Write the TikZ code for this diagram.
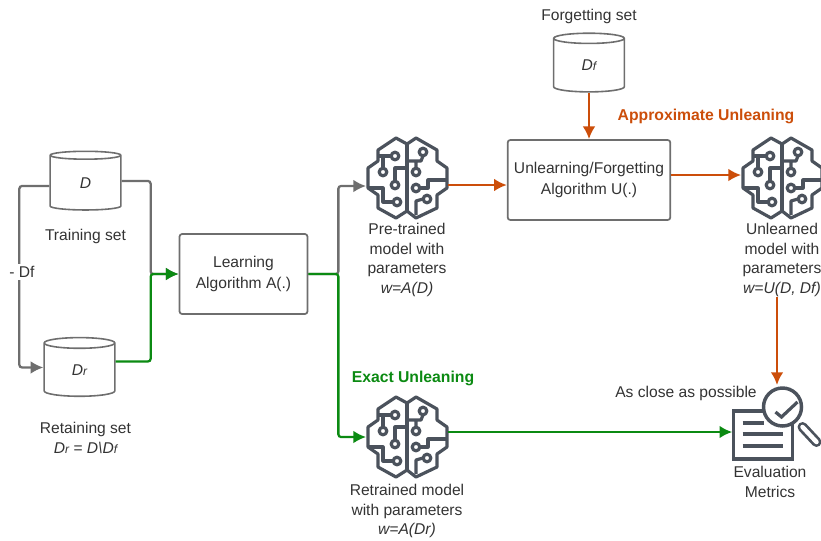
\documentclass[tikz,border=0pt]{standalone}
\usepackage{fontspec}
\setmainfont{Liberation Sans}
\usetikzlibrary{shapes.geometric}
\usetikzlibrary{arrows.meta}
\definecolor{icongray}{HTML}{4B525C}
\definecolor{linegray}{HTML}{6E6E6E}
\definecolor{textgray}{HTML}{333333}
\definecolor{exactgreen}{HTML}{0B8A12}
\definecolor{approxorange}{HTML}{CC4E0A}
\newcommand{\low}[1]{{\fontsize{9}{9}\selectfont #1}}
\newcommand{\drop}[1]{\raisebox{-2.2pt}{#1}}
\tikzset{
  label/.style={text=textgray,font=\fontsize{11.7}{14.6}\selectfont,align=center,inner sep=0pt},
  box/.style={draw=linegray,line width=1.3pt,rounded corners=2pt,text=textgray,align=center,
    font=\fontsize{11.7}{15.2}\selectfont},
  store/.style={cylinder,shape border rotate=90,aspect=.7,draw=linegray,line width=1.2pt,
    minimum width=53pt,minimum height=44pt,inner sep=0pt,text=textgray,font=\fontsize{11.7}{13}\selectfont\itshape},
  slot/.style={minimum width=61pt,minimum height=61pt,inner sep=0pt},
  sheet/.style={minimum width=45pt,minimum height=36pt,inner sep=0pt},
  link/.style={draw=linegray,line width=1.7pt,rounded corners=2pt,-{Latex[length=9.5pt,width=9.5pt]}},
  exact/.style={link,draw=exactgreen},
  approx/.style={link,draw=approxorange},
  brainicon/.pic={
    \begin{scope}[icongray,line width=2.4pt,line join=round,x=.75pt,y=-.75pt]
      \draw (-11,-40) -- (-29,-28) -- (-29,-17) -- (-39,-10) -- (-39,10) -- (-29,17) -- (-29,30) -- (-11,40)
        -- (0,33) -- (9,40) -- (30,30) -- (30,17) -- (40,10) -- (40,-10) -- (30,-17) -- (30,-28) -- (9,-40)
        -- (0,-34) -- cycle;
      \draw (0,-34) -- (0,33);
      \draw (-29,-22) -- (-15,-22) (-24,-22) -- (-24,-10) (0,-10) -- (-12,-10) -- (-12,3);
      \draw (-39,10) -- (-24,10) -- (-24,24) -- (-14,24);
      \draw (0,-17) -- (14,-17) -- (16,-22) (9,-17) -- (9,-9);
      \draw (40,2) -- (21,2) -- (21,10) -- (13,10);
      \draw (16,21) -- (9,23) -- (9,37);
      \foreach \px/\py in {-12/-22,-24/-6,-12/7,-10/24,16/-26,9/-6,9/10,20/21}
        \draw[fill=white] (\px,\py) circle (3.8);
    \end{scope}
  },
  reporticon/.pic={
    \begin{scope}[icongray,x=.75pt,y=-.75pt]
      \draw[line width=2.6pt,fill=white] (-29,-24) rectangle (30,24);
      \draw[line width=2.4pt] (-20,-12) -- (1,-12) (-20,-1) -- (20,-1) (-20,11) -- (20,11);
      \draw[line width=7.5pt,line cap=round] (40,-8) -- (54,7);
      \draw[white,line width=3.4pt,line cap=round] (40,-8) -- (54,7);
      \draw[line width=2.6pt,fill=white] (20,-28) circle (19);
      \draw[line width=2.4pt] (13,-23) -- (19,-18) -- (35,-33);
    \end{scope}
  },
}
\begin{document}
\begin{tikzpicture}[x=.75pt,y=-.75pt]
  \useasboundingbox (0,0) rectangle (821,540);
  \node (train) [store] at (85.5,183) {\drop{D}};
  \node (retain) [store] at (79.5,370) {\drop{D\low{r}}};
  \node (forget) [store] at (589,65.5) {\drop{D\low{f}}};
  \node (learn) [box,minimum width=96pt,minimum height=60pt] at (243.5,274) {Learning\\Algorithm A(.)};
  \node (unlearn) [box,minimum width=122pt,minimum height=60pt] at (589,180) {Unlearning/Forgetting\\Algorithm U(.)};
  \node (pretrained) [slot] at (407,178) {};
  \node (unlearned) [slot] at (782,178) {};
  \node (retrained) [slot] at (407,437) {};
  \node (report) [sheet] at (762.5,435) {};
  \coordinate (lens) at (777,385);
  \pic at (pretrained) {brainicon};
  \pic at (unlearned) {brainicon};
  \pic at (retrained) {brainicon};
  \pic at (report) {reporticon};
  \node (forgetname) [label] at (589,16) {Forgetting set};
  \node (trainname) [label] at (85.5,236) {Training set};
  \node (retainname) [label] at (85.5,438) {Retaining set\\\itshape D\low{r} = D\textbackslash D\low{f}};
  \node (pretext) [label] at (407,260) {Pre-trained\\model with\\parameters\\\itshape w=A(D)};
  \node (unlearntext) [label] at (782,260) {Unlearned\\model with\\parameters\\\itshape w=U(D, Df)};
  \node (retraintext) [label] at (407,511) {Retrained model\\with parameters\\\itshape w=A(Dr)};
  \node (evaltext) [label] at (770,482) {Evaluation\\Metrics};
  \node (closetext) [label] at (686,393) {As close as possible};
  \node (exacttext) [label,text=exactgreen,font=\fontsize{11.8}{15}\selectfont\bfseries] at (413,378) {Exact Unleaning};
  \node (approxtext) [label,text=approxorange,font=\fontsize{11.8}{15}\selectfont\bfseries] at (706,116) {Approximate Unleaning};
  \draw [link] ([yshift=1.5pt]train.east) -- ++(29,0) |- (learn.west);
  \draw [link] ([yshift=-2.25pt]train.west) -- ++(-30,0) |- ([yshift=1.9pt]retain.west);
  \node (minus) [label,fill=white,inner sep=2pt] at (22,272) {- Df};
  \draw [exact] ([yshift=6.4pt]retain.east) -- ++(35,0) |- (learn.west);
  \draw [link] (learn.east) -- ++(30,0) |- ([yshift=-6pt]pretrained.west);
  \draw [exact] (learn.east) -- ++(30,0) |- (retrained.west);
  \draw [approx] (pretrained.east |- 0,185) -- (unlearn.west |- 0,185);
  \draw [approx] (forget.south) -- (unlearn.north);
  \draw [approx] (unlearn.east |- 0,175) -- (unlearned.west |- 0,175);
  \draw [approx] (unlearntext.south -| lens) -- (lens);
  \draw [exact] (retrained.east |- 0,432) -- (report.west |- 0,432);
\end{tikzpicture}
\end{document}
